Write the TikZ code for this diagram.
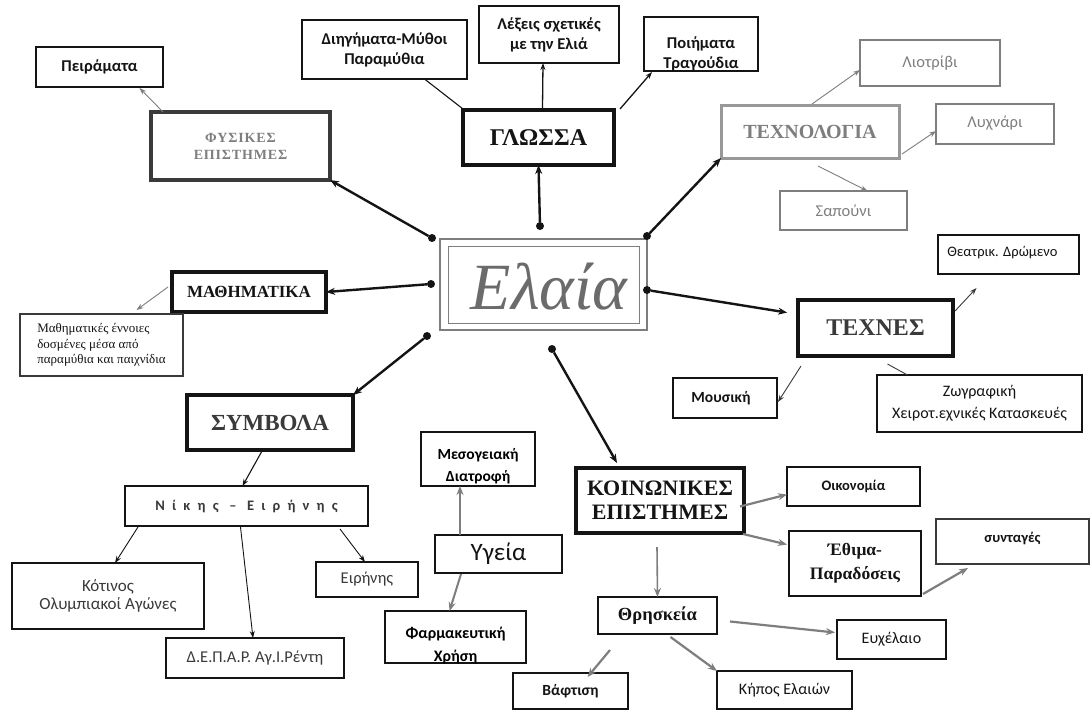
\documentclass[tikz,border=0pt]{standalone}
\usepackage{fontspec}
\setmainfont{Liberation Serif}
\newfontfamily\sansf{Carlito}
\usetikzlibrary{arrows.meta,calc}
\definecolor{ink}{HTML}{141414}
\definecolor{gr}{HTML}{7E7E7E}
\definecolor{dg}{HTML}{3A3A3A}
\definecolor{lg}{HTML}{B8B8B8}
\tikzset{
 box/.style={draw=ink, line width=1.6pt, fill=white, inner sep=0pt, outer sep=0pt, align=center, text=ink},
 thickbox/.style={box, line width=3.6pt},
 graybox/.style={box, draw=gr, line width=1.2pt, text=gr},
 bigarrow/.style={draw=ink, line width=2.4pt, -{Stealth[length=9pt,width=7pt]}},
 thinarrow/.style={draw=dg, line width=0.9pt, -{Stealth[length=7pt,width=5pt]}},
 grarrow/.style={draw=gr, line width=0.9pt, -{Stealth[length=7pt,width=5pt]}},
 gthick/.style={draw=gr, line width=2.2pt, -{Stealth[length=9pt,width=7pt]}},
 dot/.style={circle, fill=ink, inner sep=0pt, minimum size=8pt, outer sep=0pt},
 sb/.style={font=\sansf\bfseries\fontsize{16.5}{20}\selectfont},
 sr/.style={font=\sansf\fontsize{16.5}{20}\selectfont},
 serb/.style={font=\bfseries\fontsize{#1}{#1}\selectfont},
}
\begin{document}
\begin{tikzpicture}[x=1pt,y=-1pt]
\useasboundingbox (0,0) rectangle (1092,710);
\fill[white] (0,0) rectangle (1092,710);

% ---------- central node ----------
\node[draw=gr, line width=2.6pt, minimum width=207pt, minimum height=91pt, inner sep=0pt, outer sep=0pt] (elaia) at (543.5,284.5) {};
\draw[gr, line width=0.9pt] ($(elaia.south west)+(8,-7)$) rectangle ($(elaia.north east)+(-8,7)$);
\node[text=gr!85!black, font=\itshape\fontsize{66}{66}\selectfont] (elaiatx) at (549,287) {Ελαία};

% dots
\node[dot] (dtl) at (432,238) {};
\node[dot] (dt)  at (540,226) {};
\node[dot] (dtr) at (647,236) {};
\node[dot] (dl)  at (431,284) {};
\node[dot] (dr)  at (647,290) {};
\node[dot] (dbl) at (427,336) {};
\node[dot] (db)  at (552,349) {};

% ---------- top left ----------
\node[box, line width=1.2pt, minimum width=127pt, minimum height=40pt, sb] (pir) at (99.5,67) {Πειράματα};
\node[thickbox, draw=dg, minimum width=179pt, minimum height=68pt, text=gr, font=\bfseries\fontsize{14}{16}\selectfont] (phys) at (240.5,146) {\addfontfeatures{LetterSpace=6}ΦΥΣΙΚΕΣ\\[1pt]\addfontfeatures{LetterSpace=6}ΕΠΙΣΤΗΜΕΣ};

% ---------- glossa ----------
\node[box, minimum width=165pt, minimum height=59pt, sb] (dieg) at (384.5,49.5) {Διηγήματα-Μύθοι\\Παραμύθια};
\node[box, line width=1.4pt, minimum width=140pt, minimum height=57pt, sb] (lex) at (549,34.5) {Λέξεις σχετικές\\με την  Ελιά};
\node[box, minimum width=114pt, minimum height=54pt] (poi) at (701,44) {};
\begin{scope}
\clip (poi.south west) rectangle (poi.north east);
\node[sb, text=ink, align=center] (poit) at (701,54) {Ποιήματα\\Τραγούδια};
\end{scope}
\node[thickbox, line width=4pt, minimum width=151pt, minimum height=55pt, serb=24] (glossa) at (538.5,137.5) {ΓΛΩΣΣΑ};

% ---------- technology ----------
\node[graybox, minimum width=140pt, minimum height=46pt, sr] (liot) at (930,63) {Λιοτρίβι};
\node[graybox, line width=3pt, draw=gr!80, minimum width=178pt, minimum height=53pt, text=gr, serb=20] (tech) at (810,131.5) {ΤΕΧΝΟΛΟΓΙΑ};
\node[graybox, minimum width=118pt, minimum height=40pt, sr] (lych) at (995,124) {\raisebox{4pt}{Λυχνάρι}};
\node[graybox, minimum width=127pt, minimum height=39pt, sr] (sap) at (843.5,210.5) {Σαπούνι};

% ---------- arts ----------
\node[box, line width=2pt, minimum width=141pt, minimum height=39pt, font=\sansf\fontsize{14.5}{16}\selectfont] (theat) at (1008.5,254.5) {\raisebox{6pt}{Θεατρικ. Δρώμενο\hspace{12pt}}};
\node[thickbox, minimum width=155pt, minimum height=56pt, text=dg, serb=24] (texnes) at (875.5,328) {ΤΕΧΝΕΣ};
\node[box, line width=2pt, minimum width=104pt, minimum height=40pt, font=\sansf\bfseries\fontsize{15.5}{17}\selectfont] (mous) at (725,398) {\raisebox{3pt}{Μουσική\hspace{8pt}}};
\node[box, line width=2pt, minimum width=205pt, minimum height=57pt, font=\sansf\fontsize{16}{22}\selectfont] (zogr) at (979.5,403.5) {Ζωγραφική\\Χειροτ.εχνικές Κατασκευές};

% ---------- maths ----------
\node[thickbox, minimum width=154pt, minimum height=40pt, serb=17] (math) at (249,292) {ΜΑΘΗΜΑΤΙΚΑ};
\node[box, draw=dg, line width=1.6pt, minimum width=163pt, minimum height=62pt, align=left, font=\fontsize{13}{15.5}\selectfont] (mathc) at (101.5,345) { Μαθηματικές έννοιες\\δοσμένες μέσα από\\παραμύθια και παιχνίδια};

% ---------- symbols ----------
\node[thickbox, minimum width=166pt, minimum height=55pt, text=dg, serb=23] (symb) at (270,422.5) {ΣΥΜΒΟΛΑ};
\node[box, line width=2pt, minimum width=243pt, minimum height=40pt, font=\sansf\bfseries\fontsize{14.5}{16}\selectfont, text=dg] (nik) at (246.5,506) {\addfontfeatures{LetterSpace=50}Νίκης  –  Ειρήνης};
\node[box, line width=2pt, minimum width=192pt, minimum height=66pt, sr, text=dg, font=\sansf\fontsize{17}{18}\selectfont] (kot) at (108,596) {Κότινος\\Ολυμπιακοί Αγώνες};
\node[box, line width=2pt, minimum width=178pt, minimum height=40pt, sr, text=dg] (dep) at (255,658) {Δ.Ε.Π.Α.Ρ. Αγ.Ι.Ρέντη};
\node[box, line width=2pt, minimum width=102pt, minimum height=35pt, sr, text=dg] (eir) at (367,579.5) {Ειρήνης};

% ---------- health ----------
\node[box, minimum width=114pt, minimum height=54pt] (meso) at (478,459) {};
\begin{scope}
\clip (meso.south west) rectangle (meso.north east);
\node[sb, align=center, font=\sansf\bfseries\fontsize{15.5}{22}\selectfont] (mesot) at (478,466) {Μεσογειακή\\Διατροφή};
\end{scope}
\node[box, minimum width=127pt, minimum height=38pt, font=\sansf\fontsize{25}{28}\selectfont] (ygeia) at (498.5,554) {Υγεία};
\node[box, minimum width=141pt, minimum height=52pt] (farm) at (455.5,637) {};
\begin{scope}
\clip (farm.south west) rectangle (farm.north east);
\node[sb, align=center, font=\sansf\bfseries\fontsize{16}{23}\selectfont] (farmt) at (455.5,646) {Φαρμακευτική\\Χρήση};
\end{scope}

% ---------- social sciences ----------
\node[thickbox, minimum width=168pt, minimum height=65pt, serb=22] (koin) at (660,500.5) {ΚΟΙΝΩΝΙΚΕΣ\\[2pt]ΕΠΙΣΤΗΜΕΣ};
\node[box, line width=2pt, minimum width=133pt, minimum height=39pt, font=\sansf\bfseries\fontsize{14.5}{16}\selectfont] (oik) at (853.5,486.5) {\raisebox{3pt}{Οικονομία}};
\node[box, line width=1.4pt, minimum width=132pt, minimum height=65pt, font=\bfseries\fontsize{17.5}{24}\selectfont] (ethi) at (855,563.5) {Έθιμα-\\Παραδόσεις};
\node[box, draw=dg, line width=1.2pt, minimum width=153pt, minimum height=45pt, font=\sansf\bfseries\fontsize{14.5}{16}\selectfont] (synt) at (1012.5,541.5) {\raisebox{8pt}{συνταγές}};
\node[box, line width=1.3pt, minimum width=119pt, minimum height=37pt, serb=18.5] (thre) at (657.5,615.5) {Θρησκεία};
\node[box, line width=2pt, minimum width=109pt, minimum height=39pt, font=\sansf\fontsize{16}{18}\selectfont] (eux) at (891.5,639.5) {Ευχέλαιο};
\node[box, line width=2pt, minimum width=135pt, minimum height=38pt, font=\sansf\fontsize{16}{18}\selectfont] (kip) at (784.5,690) {Κήπος Ελαιών};
\node[box, line width=2pt, minimum width=115pt, minimum height=36pt, font=\sansf\bfseries\fontsize{15.5}{17}\selectfont] (vaf) at (570.5,691) {Βάφτιση};

% ---------- main connectors ----------
\draw[bigarrow] (dtl) -- (phys.south east);
\draw[bigarrow] (dt) -- (glossa.south);
\draw[bigarrow] (dtr) -- (tech.south west);
\draw[bigarrow] (dl) -- (math.east);
\draw[bigarrow, shorten >=11pt] (dr) -- (texnes.170);
\draw[bigarrow] (dbl) -- (symb.north east);
\draw[bigarrow] (db) -- ($(koin.north west)+(41,-5)$);

% ---------- secondary connectors ----------
\draw[grarrow] ($(phys.north west)+(12,0)$) -- ($(pir.south)+(40,1)$);
\draw[draw=ink, line width=1.1pt] ($(glossa.north west)+(0,-1)$) -- ($(dieg.south)+(40,0)$);
\draw[thinarrow, draw=ink, line width=1.3pt] ($(glossa.north)+(4,-2)$) -- ($(lex.south)+(-6,0)$);
\draw[thinarrow, draw=ink, line width=1.3pt] ($(glossa.north east)+(6,-1)$) -- ($(poi.south west)+(8,1)$);

\draw[grarrow] ($(tech.north)+(2,-1)$) -- ($(liot.west)+(0,7)$);
\draw[grarrow] ($(tech.south east)+(3,-4)$) -- ($(lych.west)+(0,7)$);
\draw[grarrow] ($(tech.south)+(8,8)$) -- ($(sap.north)+(24,0)$);

\draw[grarrow] ($(math.west)+(-4,-5)$) -- ($(mathc.north)+(35,-4)$);

\draw[thinarrow, draw=ink, line width=1.1pt] ($(symb.south)+(-8,1)$) -- ($(nik.north)+(-4,0)$);
\draw[thinarrow, draw=ink] ($(nik.south west)+(13,1)$) -- ($(kot.north)+(7,0)$);
\draw[thinarrow, draw=ink] ($(nik.south)+(-6,1)$) -- ($(dep.north)+(-2,0)$);
\draw[thinarrow, draw=ink] ($(nik.south east)+(-28,3)$) -- ($(eir.north)+(-2,0)$);

\draw[gthick, line width=2pt] ($(ygeia.north west)+(25,0)$) -- ($(meso.south)+(-18,0)$);
\draw[gthick, line width=2pt] ($(ygeia.south west)+(26,1)$) -- ($(farm.north)+(-6,0)$);

\draw[gthick] ($(koin.east)+(-4,6)$) -- ($(oik.west)+(0,8)$);
\draw[gthick] ($(koin.south east)+(-1,1)$) -- ($(ethi.west)+(-2,-19)$);
\draw[gthick, line width=1.6pt] ($(koin.south)+(-3,14)$) -- (thre.north);
\draw[gthick] ($(ethi.south east)+(2,-2)$) -- ($(synt.south west)+(32,4)$);
\draw[gthick] ($(thre.east)+(13,6)$) -- ($(eux.west)+(-2,-7)$);
\draw[gthick] ($(thre.south)+(13,3)$) -- (kip.north west);
\draw[gthick] ($(thre.south west)+(12,16)$) -- ($(vaf.north)+(17,4)$);

\draw[thinarrow] ($(texnes.north east)+(2,11)$) -- ($(theat.south)+(-32,14)$);
\draw[thinarrow] ($(texnes.south west)+(3,10)$) -- ($(mous.east)+(1,4)$);
\draw[draw=dg, line width=0.9pt] ($(texnes.south)+(12,8)$) -- ($(zogr.north)+(-72,0)$);
\end{tikzpicture}
\end{document}
